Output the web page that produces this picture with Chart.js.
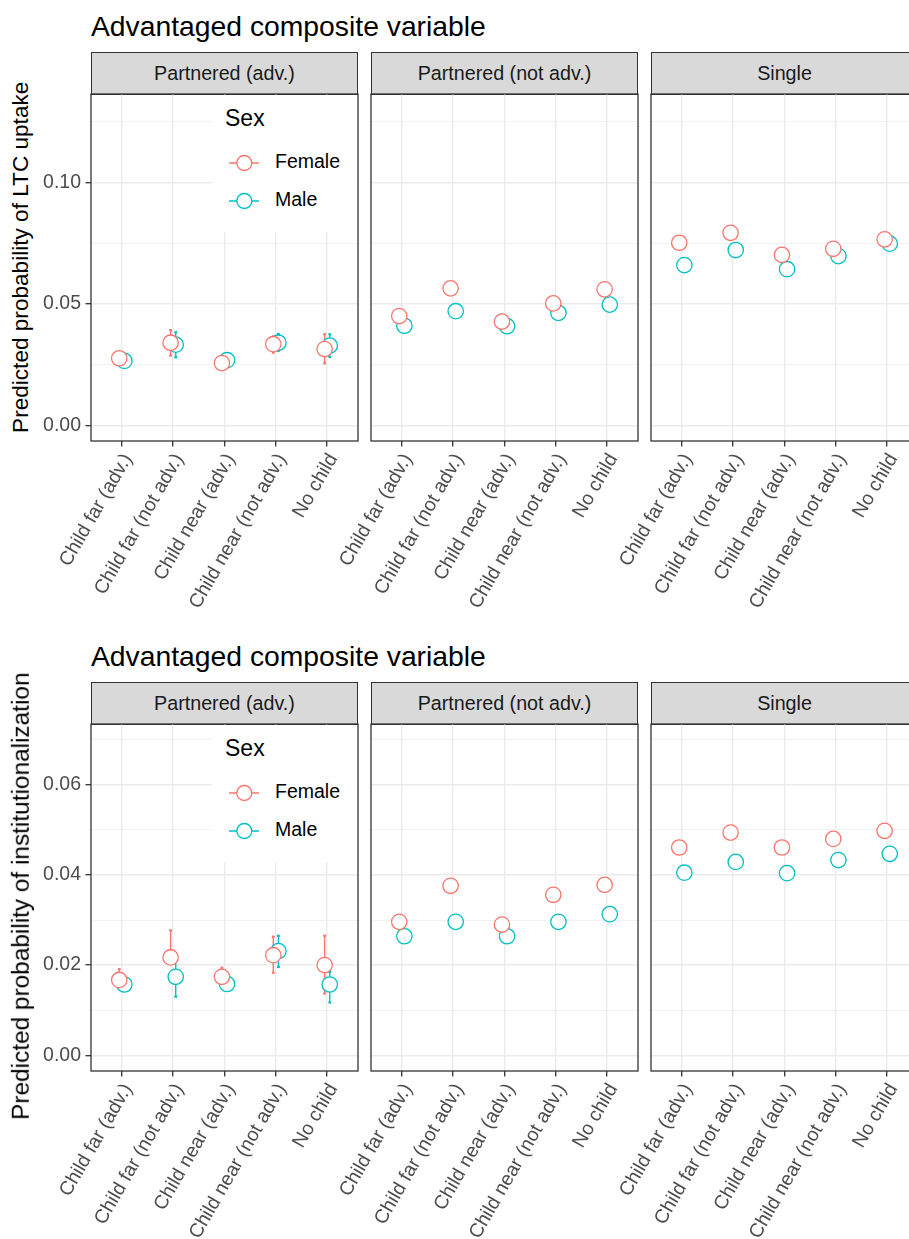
<!DOCTYPE html>
<html><head><meta charset="utf-8">
<script src="https://cdn.jsdelivr.net/npm/chart.js@4.4.1/dist/chart.umd.min.js"></script>
<style>
html,body{margin:0;padding:0;background:#fff;width:909px;height:1239px;overflow:hidden;position:relative;font-family:'Liberation Sans',Arial,Helvetica,sans-serif;}
.abs{position:absolute;}
.title{font-size:28.3px;line-height:28.3px;color:#000;white-space:nowrap;}
.strip{box-sizing:border-box;border:1.3px solid #333;background:#D9D9D9;color:#1A1A1A;font-size:19.7px;display:flex;align-items:center;justify-content:center;white-space:nowrap;}
.ytitle{width:700px;text-align:center;transform:rotate(-90deg);white-space:nowrap;color:#000;}
.legend{background:#fff;z-index:5;}
.ltitle{font-size:23px;line-height:23px;color:#000;white-space:nowrap;}
.litem{font-size:19.5px;line-height:19.5px;color:#000;white-space:nowrap;}
canvas{position:absolute;}
</style></head><body>
<script>
// ---------- data ----------
const categories = ['Child far (adv.)','Child far (not adv.)','Child near (adv.)','Child near (not adv.)','No child'];
const panelNames = ['Partnered (adv.)','Partnered (not adv.)','Single'];
const rowTitles = ['Advantaged composite variable','Advantaged composite variable'];
const yTitles = ['Predicted probability of LTC uptake','Predicted probability of institutionalization'];
const legendTitle = 'Sex';
const seriesNames = ['Female','Male'];

// Row 1: LTC uptake  (outer index = panel, inner = category)
const ltcFemale   = [[0.0276,0.0340,0.0256,0.0334,0.0314],[0.0450,0.0564,0.0427,0.0502,0.0560],[0.0752,0.0793,0.0702,0.0727,0.0766]];
const ltcFemaleLo = [[0.0262,0.0287,0.0243,0.0299,0.0255],[0.0437,0.0550,0.0414,0.0488,0.0546],[0.0736,0.0777,0.0686,0.0711,0.0750]];
const ltcFemaleHi = [[0.0290,0.0392,0.0269,0.0366,0.0375],[0.0463,0.0578,0.0440,0.0516,0.0574],[0.0768,0.0809,0.0718,0.0743,0.0782]];
const ltcMale     = [[0.0265,0.0332,0.0268,0.0340,0.0328],[0.0410,0.0470,0.0408,0.0463,0.0497],[0.0660,0.0722,0.0643,0.0697,0.0748]];
const ltcMaleLo   = [[0.0252,0.0280,0.0255,0.0306,0.0281],[0.0397,0.0457,0.0395,0.0450,0.0484],[0.0645,0.0707,0.0628,0.0682,0.0733]];
const ltcMaleHi   = [[0.0278,0.0383,0.0281,0.0376,0.0375],[0.0423,0.0483,0.0421,0.0476,0.0510],[0.0675,0.0737,0.0658,0.0712,0.0763]];

// Row 2: institutionalization
const instFemale   = [[0.0167,0.0217,0.0174,0.0222,0.0200],[0.0296,0.0376,0.0290,0.0356,0.0378],[0.0461,0.0494,0.0461,0.0480,0.0498]];
const instFemaleLo = [[0.0148,0.0203,0.0158,0.0183,0.0137],[0.0286,0.0366,0.0280,0.0346,0.0368],[0.0451,0.0484,0.0451,0.0470,0.0488]];
const instFemaleHi = [[0.0191,0.0277,0.0194,0.0263,0.0265],[0.0306,0.0386,0.0300,0.0366,0.0388],[0.0471,0.0504,0.0471,0.0490,0.0508]];
const instMale     = [[0.0157,0.0174,0.0158,0.0231,0.0157],[0.0264,0.0296,0.0264,0.0296,0.0313],[0.0405,0.0429,0.0404,0.0433,0.0447]];
const instMaleLo   = [[0.0147,0.0130,0.0148,0.0196,0.0117],[0.0254,0.0286,0.0254,0.0286,0.0303],[0.0395,0.0419,0.0394,0.0423,0.0437]];
const instMaleHi   = [[0.0167,0.0215,0.0168,0.0265,0.0185],[0.0274,0.0306,0.0274,0.0306,0.0323],[0.0415,0.0439,0.0414,0.0443,0.0457]];

// axis ticks
const ltcMajor = [0, 0.05, 0.10];
const ltcMinor = [0.025, 0.075, 0.125];
const ltcLabels = ['0.00','0.05','0.10'];
const instMajor = [0, 0.02, 0.04, 0.06];
const instMinor = [0.01, 0.03, 0.05, 0.07];
const instLabels = ['0.00','0.02','0.04','0.06'];

// ---------- layout / style ----------
Chart.defaults.font.family = "'Liberation Sans', Arial, Helvetica, sans-serif";
const FEMALE = '#F8766D', MALE = '#00BFC4';
const DODGE = 0.05;
const panelLeft = [91, 371, 651];
const PW = 267, PH = 347, YW = 91, XH = 190;
const rows = [
  {top:94, f:ltcFemale, fl:ltcFemaleLo, fh:ltcFemaleHi, m:ltcMale, ml:ltcMaleLo, mh:ltcMaleHi,
   min:-0.0065, max:0.1365, major:ltcMajor, minor:ltcMinor, labels:ltcLabels, ytSize:22.6, ytCenter:257},
  {top:724, f:instFemale, fl:instFemaleLo, fh:instFemaleHi, m:instMale, ml:instMaleLo, mh:instMaleHi,
   min:-0.0035, max:0.0735, major:instMajor, minor:instMinor, labels:instLabels, ytSize:24.4, ytCenter:896}
];

function addDiv(cls, text, style, parent){
  const d = document.createElement('div');
  d.className = 'abs ' + cls;
  if (text !== null) d.textContent = text;
  Object.assign(d.style, style);
  (parent || document.body).appendChild(d);
  return d;
}

function errorBarPlugin(series){
  return {
    id:'errbars',
    beforeDatasetsDraw(chart){
      const {ctx, scales:{x, y}} = chart;
      ctx.save();
      series.forEach(s => {
        ctx.strokeStyle = s.color; ctx.fillStyle = s.color; ctx.lineWidth = 1.4;
        s.lo.forEach((lo, i) => {
          const px = x.getPixelForValue(i + 1 + s.off);
          const y1 = y.getPixelForValue(lo), y2 = y.getPixelForValue(s.hi[i]);
          ctx.beginPath(); ctx.moveTo(px, y1); ctx.lineTo(px, y2); ctx.stroke();
          ctx.fillRect(px - 1.4, y1 - 1.1, 2.8, 2.2);
          ctx.fillRect(px - 1.4, y2 - 1.1, 2.8, 2.2);
        });
      });
      ctx.restore();
    }
  };
}
const borderPlugin = {
  id:'pborder',
  afterDraw(chart){
    const {ctx, chartArea:a} = chart;
    ctx.save(); ctx.strokeStyle = '#333333'; ctx.lineWidth = 1.3;
    ctx.strokeRect(a.left, a.top, a.right - a.left, a.bottom - a.top);
    ctx.restore();
  }
};

const isIn = (arr, v) => arr.some(a => Math.abs(a - v) < 1e-9);

rows.forEach((r, ri) => {
  addDiv('title', rowTitles[ri], {left:'91px', top:(r.top - 82.5) + 'px'});
  addDiv('ytitle', yTitles[ri], {left:(21 - 350) + 'px', top:(r.ytCenter - r.ytSize / 2) + 'px',
    fontSize:r.ytSize + 'px', lineHeight:r.ytSize + 'px', height:r.ytSize + 'px'});
  panelLeft.forEach((pl, p) => {
    addDiv('strip', panelNames[p], {left:pl + 'px', top:(r.top - 42) + 'px', width:PW + 'px', height:'43px'});
    const cv = document.createElement('canvas');
    const W = YW + PW + 3, H = 2 + PH + XH;
    cv.width = W; cv.height = H;
    cv.style.left = (pl - YW) + 'px'; cv.style.top = (r.top - 2) + 'px';
    cv.style.width = W + 'px'; cv.style.height = H + 'px';
    document.body.appendChild(cv);
    const first = p === 0;
    new Chart(cv.getContext('2d'), {
      type:'scatter',
      data:{datasets:[
        {label:seriesNames[0], data:r.f[p].map((v, i) => ({x:i + 1 - DODGE, y:v})),
         borderColor:FEMALE, backgroundColor:'#ffffff', pointRadius:7.7, pointHoverRadius:7.7,
         pointBorderWidth:1.3, order:0},
        {label:seriesNames[1], data:r.m[p].map((v, i) => ({x:i + 1 + DODGE, y:v})),
         borderColor:MALE, backgroundColor:'#ffffff', pointRadius:7.7, pointHoverRadius:7.7,
         pointBorderWidth:1.3, order:1}
      ]},
      options:{
        responsive:false, animation:false, events:[],
        layout:{autoPadding:false, padding:{top:2, right:3, left:0, bottom:0}},
        plugins:{legend:{display:false}, tooltip:{enabled:false}},
        scales:{
          x:{
            type:'linear', min:0.4, max:5.6,
            afterBuildTicks: s => { s.ticks = categories.map((c, i) => ({value:i + 1})); },
            afterFit: s => { s.height = XH; s.paddingLeft = 0; s.paddingRight = 0; s.paddingTop = 0; s.paddingBottom = 0; },
            ticks:{callback: v => categories[Math.round(v) - 1], minRotation:60, maxRotation:60, autoSkip:false,
                   font:{size:19.5}, color:'#4D4D4D', padding:3, labelOffset:6},
            grid:{color:'#EBEBEB', lineWidth:1.4, tickColor:'#333333', tickLength:5.5, tickWidth:1.3},
            border:{display:false}
          },
          y:{
            type:'linear', min:r.min, max:r.max,
            afterBuildTicks: s => { s.ticks = r.major.concat(r.minor).sort((a, b) => a - b).map(v => ({value:v})); },
            afterFit: s => { s.width = YW; s.paddingTop = 0; s.paddingBottom = 0; },
            ticks:{display:first, autoSkip:false, font:{size:19.5}, color:'#4D4D4D', padding:4.5,
                   callback: v => { const k = r.major.findIndex(m => Math.abs(m - v) < 1e-9); return k >= 0 ? r.labels[k] : ''; }},
            grid:{color:'#EBEBEB', drawTicks:first, tickLength:5.5, tickWidth:1.3,
                  lineWidth: c => (c.tick && isIn(r.minor, c.tick.value)) ? 0.7 : 1.4,
                  tickColor: c => (c.tick && isIn(r.minor, c.tick.value)) ? 'rgba(0,0,0,0)' : '#333333'},
            border:{display:false}
          }
        }
      },
      plugins:[errorBarPlugin([
        {color:MALE, off:DODGE, lo:r.ml[p], hi:r.mh[p]},
        {color:FEMALE, off:-DODGE, lo:r.fl[p], hi:r.fh[p]}
      ]), borderPlugin]
    });
  });
});

// legends (inside first panel of each row)
rows.forEach((r, ri) => {
  const lg = addDiv('legend', null, {left:'212px', top:(r.top + 1) + 'px', width:'145px', height:'137px'});
  addDiv('ltitle', legendTitle, {left:'13px', top:'12px'}, lg);
  [[seriesNames[0], FEMALE, 67.5], [seriesNames[1], MALE, 105.5]].forEach(([name, col, cy]) => {
    const svgNS = 'http://www.w3.org/2000/svg';
    const svg = document.createElementNS(svgNS, 'svg');
    svg.setAttribute('width', '40'); svg.setAttribute('height', '24');
    svg.style.position = 'absolute'; svg.style.left = '12px'; svg.style.top = (cy - 12) + 'px';
    const ln = document.createElementNS(svgNS, 'line');
    ln.setAttribute('x1', '5'); ln.setAttribute('x2', '35'); ln.setAttribute('y1', '12'); ln.setAttribute('y2', '12');
    ln.setAttribute('stroke', col); ln.setAttribute('stroke-width', '1.5');
    const c = document.createElementNS(svgNS, 'circle');
    c.setAttribute('cx', '20.3'); c.setAttribute('cy', '12'); c.setAttribute('r', '7.5');
    c.setAttribute('fill', '#fff'); c.setAttribute('stroke', col); c.setAttribute('stroke-width', '1.3');
    svg.appendChild(ln); svg.appendChild(c); lg.appendChild(svg);
    addDiv('litem', name, {left:'63px', top:(cy - 11) + 'px'}, lg);
  });
});
</script>
</body></html>
